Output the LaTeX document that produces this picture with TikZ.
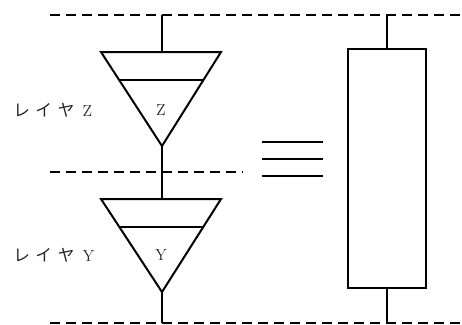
\documentclass[tikz,border=0pt]{standalone}
\usepackage{fontspec}
\newfontfamily\cjk{Noto Sans CJK JP}[Scale=1.0]
\newcommand{\layerword}{{\cjk\fontsize{12.5}{14}\selectfont レ\hspace{4pt}イ\hspace{4.5pt}ヤ}\hspace{6pt}}
\begin{document}
\begin{tikzpicture}[x=0.75pt,y=-0.75pt,
  solidline/.style={line width=1.5pt},
  dashline/.style={line width=1.5pt,dash pattern=on 7.5pt off 4.5pt},
  lbl/.style={font=\fontsize{12}{14}\selectfont,inner sep=0pt,text=black!85},
  inlbl/.style={font=\fontsize{12}{14}\selectfont,inner sep=0pt,text=black!85}]
\useasboundingbox (0,0) rectangle (462,325);
% dashed layer boundaries
\coordinate (t1) at (50,15);  \coordinate (t2) at (462,15);
\coordinate (m1) at (50,172); \coordinate (m2) at (243,172);
\coordinate (b1) at (50,323); \coordinate (b2) at (462,323);
\draw[dashline] (t1) -- (t2);
\draw[dashline] (m1) -- (m2);
\draw[dashline] (b1) -- (b2);
% triangle Z
\coordinate (zl) at (101,52); \coordinate (zr) at (221,52); \coordinate (za) at (162,146);
\coordinate (zil) at (119,80); \coordinate (zir) at (203,80);
\coordinate (ztop) at (162,15);
\draw[solidline,line join=miter] (zl) -- (zr) -- (za) -- cycle;
\draw[line width=1.2pt] (zil) -- (zir);
\draw[solidline] (ztop) -- (162,52);
\node[inlbl] (zin) at (161,110.5) {Z};
% triangle Y
\coordinate (yl) at (101,199); \coordinate (yr) at (221,199); \coordinate (ya) at (162,292);
\coordinate (yil) at (119,227); \coordinate (yir) at (203,227);
\coordinate (ybot) at (162,323);
\draw[solidline,line join=miter] (yl) -- (yr) -- (ya) -- cycle;
\draw[line width=1.2pt] (yil) -- (yir);
\draw[solidline] (za) -- (162,199);
\draw[solidline] (ya) -- (ybot);
\node[inlbl] (yin) at (161,255.5) {Y};
% labels
\node[lbl,anchor=west] (lz) at (13,110) {\layerword Z};
\node[lbl,anchor=west] (ly) at (13,255) {\layerword Y};
% equivalence sign
\coordinate (e1l) at (262,142); \coordinate (e1r) at (323,142);
\coordinate (e2l) at (262,159); \coordinate (e2r) at (323,159);
\coordinate (e3l) at (262,176); \coordinate (e3r) at (323,176);
\draw[solidline] (e1l) -- (e1r);
\draw[solidline] (e2l) -- (e2r);
\draw[solidline] (e3l) -- (e3r);
% combined layer box
\node[draw,line width=1.3pt,minimum width=77.5*0.75pt,minimum height=239*0.75pt,inner sep=0pt] (box) at (387,168.7) {};
\coordinate (rt) at (387,15); \coordinate (rb) at (387,323);
\draw[line width=1.3pt] (rt) -- (box.north);
\draw[line width=1.3pt] (box.south) -- (rb);
\end{tikzpicture}
\end{document}
